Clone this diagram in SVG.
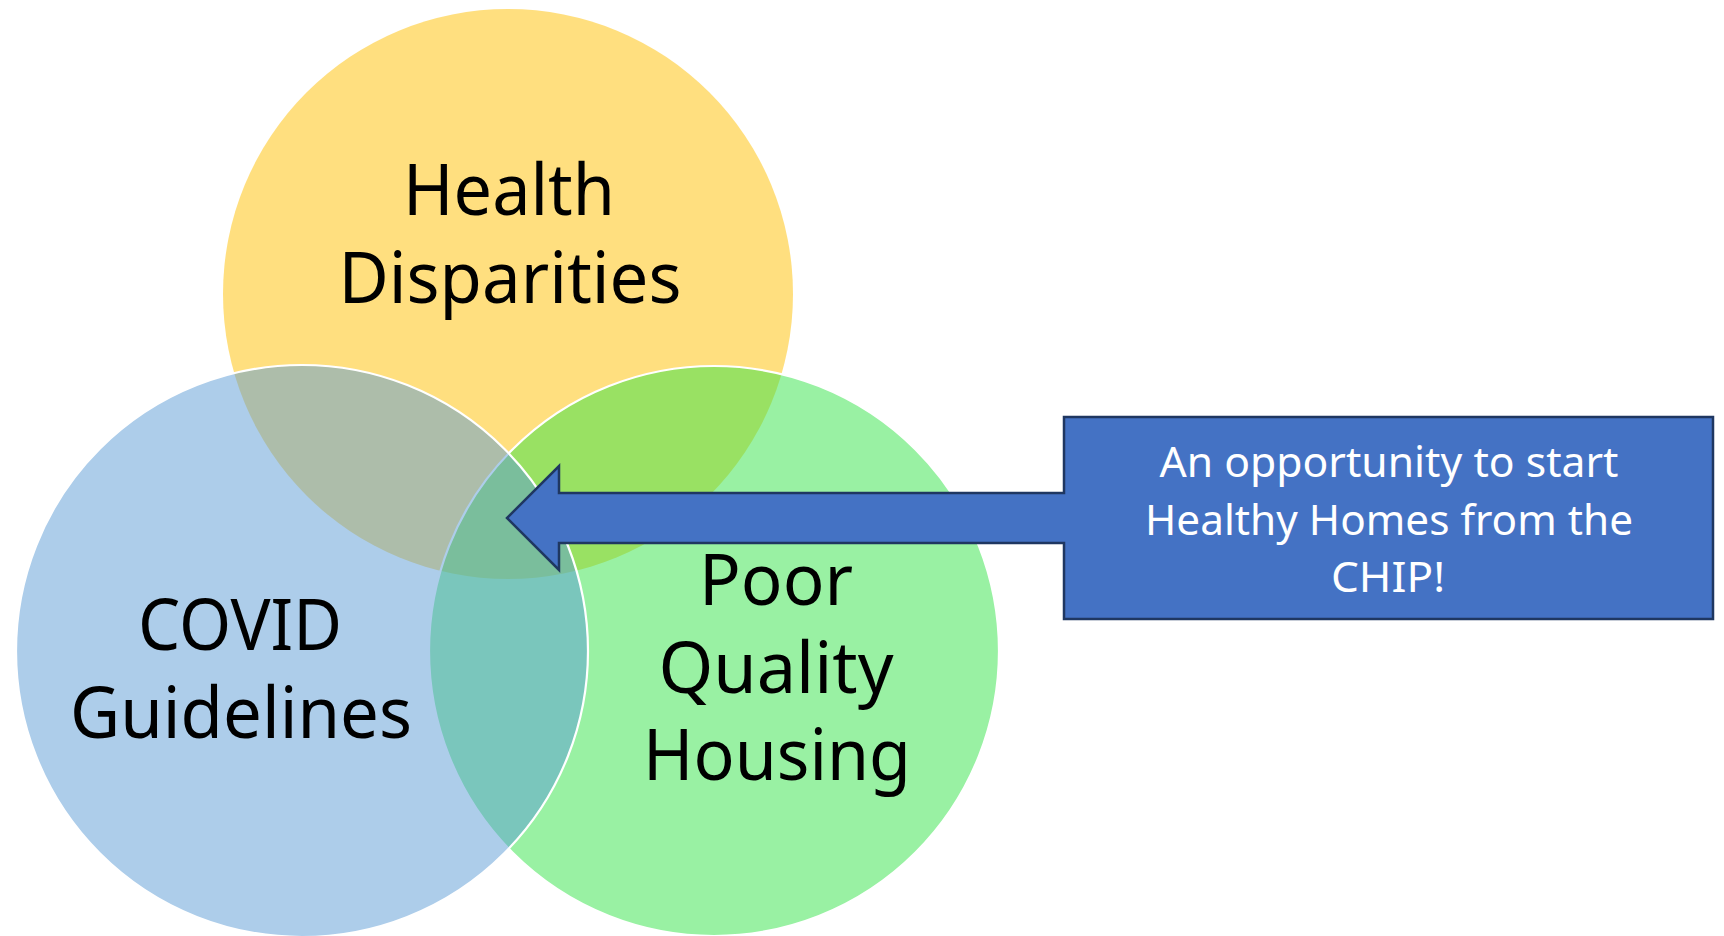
<svg xmlns="http://www.w3.org/2000/svg" width="1724" height="936" viewBox="0 0 1724 936">
<style>
.circle{fill-opacity:0.5}
.edge{stroke:#FFFFFF;stroke-width:2.2}
.lbl{font-family:"Noto Sans","Open Sans",sans-serif;font-size:71px;fill:#000000;text-anchor:middle}
.call{font-family:"Noto Sans","Open Sans",sans-serif;font-size:42px;fill:#FFFFFF;text-anchor:middle}
</style>
<rect x="0" y="0" width="1724" height="936" fill="#FFFFFF"/>
<g id="node-health-disparities">
<circle class="circle" cx="508" cy="294" r="285" fill="#FFC000"/>
</g>
<g id="node-poor-quality-housing">
<circle class="circle edge" cx="714" cy="651" r="285" fill="#33E347"/>
</g>
<g id="node-covid-guidelines">
<circle class="circle edge" cx="302" cy="651" r="286" fill="#5B9BD5"/>
</g>
<g id="labels">
<text class="lbl" x="509" y="215" textLength="212" lengthAdjust="spacingAndGlyphs">Health</text>
<text class="lbl" x="510" y="303" textLength="343" lengthAdjust="spacingAndGlyphs">Disparities</text>
<text class="lbl" x="240" y="650" textLength="204" lengthAdjust="spacingAndGlyphs">COVID</text>
<text class="lbl" x="241" y="738" textLength="342" lengthAdjust="spacingAndGlyphs">Guidelines</text>
<text class="lbl" x="776" y="605" textLength="154" lengthAdjust="spacingAndGlyphs">Poor</text>
<text class="lbl" x="776" y="693" textLength="235" lengthAdjust="spacingAndGlyphs">Quality</text>
<text class="lbl" x="777" y="780" textLength="268" lengthAdjust="spacingAndGlyphs">Housing</text>
</g>
<g id="connectors"></g>
<g id="node-callout">
<path d="M1064,417 H1713 V619 H1064 V543 H559 V570 L507,518 L559,466 V493 H1064 Z" fill="#4472C4" stroke="#1F3761" stroke-width="2.5" stroke-linejoin="miter"/>
<text class="call" x="1389" y="477" textLength="459" lengthAdjust="spacingAndGlyphs">An opportunity to start</text>
<text class="call" x="1389" y="535" textLength="488" lengthAdjust="spacingAndGlyphs">Healthy Homes from the</text>
<text class="call" x="1388" y="592" textLength="114" lengthAdjust="spacingAndGlyphs">CHIP!</text>
</g>
</svg>
